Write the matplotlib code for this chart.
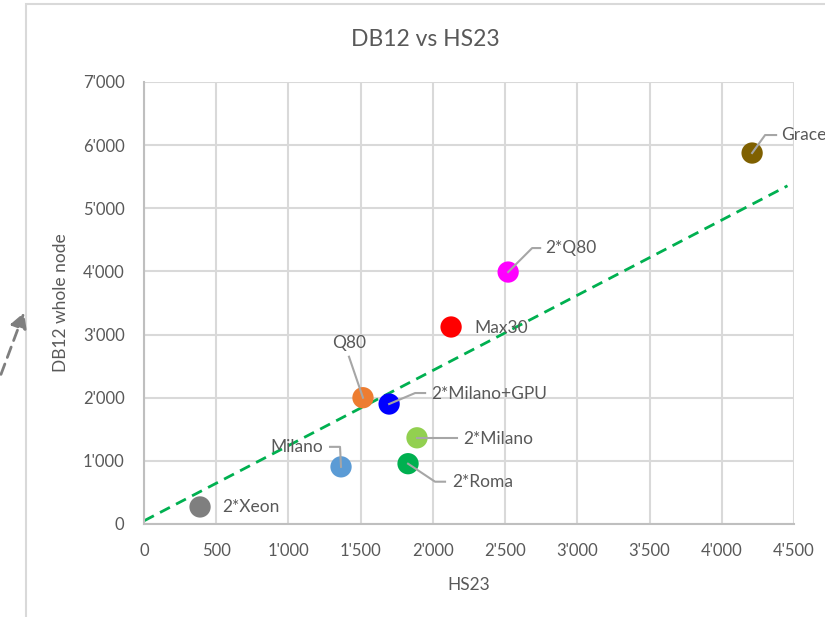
import matplotlib.pyplot as plt
from matplotlib.patches import Rectangle, FancyArrowPatch
from matplotlib.ticker import FuncFormatter, MultipleLocator

# ---------------- DATA ----------------
names = ["2*Xeon", "Milano", "Q80", "2*Milano+GPU", "2*Milano",
         "2*Roma", "Max30", "2*Q80", "Grace"]
hs23 = [388, 1364, 1516, 1697, 1890, 1828, 2126, 2521, 4210]
db12 = [270, 905, 2000, 1900, 1365, 955, 3120, 3990, 5875]
colors = ["#7f7f7f", "#5b9bd5", "#ed7d31", "#0000ff", "#92d050",
          "#00b050", "#ff0000", "#ff00ff", "#7f6000"]

# linear trend line
trend_slope = 1.191
trend_intercept = 50
trend_x_end = 4455

# label placement: text offset (px) and leader path (px) relative to the point
label_style = {
    "2*Xeon":       dict(text=(22, 0), ha="left", leader=None),
    "Milano":       dict(text=(-18, 20), ha="right", leader=[(0, 0), (-1, 20), (-11, 20)]),
    "Q80":          dict(text=(-14, 55), ha="center", leader=[(0, 0), (-14, 41)]),
    "2*Milano+GPU": dict(text=(42, 10), ha="left", leader=[(0, 0), (26, 11), (36, 11)]),
    "2*Milano":     dict(text=(46, -1), ha="left", leader=[(0, 0), (40, 0)]),
    "2*Roma":       dict(text=(44, -18), ha="left", leader=[(0, 0), (27, -18), (37, -18)]),
    "Max30":        dict(text=(23, -1), ha="left", leader=None),
    "2*Q80":        dict(text=(37, 24), ha="left", leader=[(0, 0), (24, 24), (32, 24)]),
    "Grace":        dict(text=(29, 18), ha="left", leader=[(0, 0), (13, 18), (24, 18)]),
}

TEXT = "#595959"
GRID = "#d9d9d9"
FONT = "Lato"

plt.rcParams["font.family"] = [FONT, "DejaVu Sans"]

W, H = 825, 617
fig = plt.figure(figsize=(W / 100, H / 100), dpi=100)

# chart frame
fig.patches.append(Rectangle((26 / W, -0.1), 1.2, (H - 4) / H + 0.1,
                             transform=fig.transFigure, fill=False,
                             edgecolor=GRID, linewidth=1.5))

# dashed arrow on the left edge
fig.patches.append(FancyArrowPatch((0 / W, 1 - 377 / H), (25 / W, 1 - 310 / H),
                                   transform=fig.transFigure,
                                   arrowstyle="-|>,head_length=9,head_width=5",
                                   mutation_scale=1, color="#7f7f7f",
                                   linewidth=2, linestyle=(0, (4, 2.5))))

ax = fig.add_axes([144 / W, 1 - 524 / H, 650 / W, 442 / H])
ax.set_xlim(0, 4500)
ax.set_ylim(0, 7000)
ax.xaxis.set_major_locator(MultipleLocator(500))
ax.yaxis.set_major_locator(MultipleLocator(1000))

fmt = FuncFormatter(lambda v, p: f"{int(v):,}".replace(",", "'"))
ax.xaxis.set_major_formatter(fmt)
ax.yaxis.set_major_formatter(fmt)

ax.grid(True, color=GRID, linewidth=1.5)
ax.set_axisbelow(True)
for side in ["top", "right"]:
    ax.spines[side].set_visible(False)
for side in ["left", "bottom"]:
    ax.spines[side].set_color("#bfbfbf")
    ax.spines[side].set_linewidth(1.5)
ax.tick_params(axis="x", length=0, labelsize=12, labelcolor=TEXT, pad=14)
ax.tick_params(axis="y", length=0, labelsize=12, labelcolor=TEXT, pad=14)

ax.set_xlabel("HS23", fontsize=12.5, color=TEXT, labelpad=13)
ax.set_ylabel("DB12 whole node", fontsize=12.5, color=TEXT, labelpad=10)
fig.text(425 / W, 1 - 40 / H, "DB12 vs HS23", ha="center", va="center",
         fontsize=16.5, color=TEXT)

# trend line
ax.plot([0, trend_x_end],
        [trend_intercept, trend_intercept + trend_slope * trend_x_end],
        color="#00b050", linestyle=(0, (4, 2.5)), linewidth=2, zorder=2,
        clip_on=False)

ax.scatter(hs23, db12, s=235, c=colors, zorder=3, clip_on=False,
           linewidths=0)

fig.canvas.draw()
for name, x, y in zip(names, hs23, db12):
    st = label_style[name]
    px, py = ax.transData.transform((x, y))
    if st["leader"]:
        xs = [px + dx for dx, dy in st["leader"]]
        ys = [py + dy for dx, dy in st["leader"]]
        fig.add_artist(plt.Line2D(xs, ys, transform=None, color="#a6a6a6",
                                  linewidth=1.5, zorder=4))
    tx, ty = st["text"]
    fig.text(px + tx, py + ty, name, transform=None, ha=st["ha"],
             va="center", fontsize=12.5, color=TEXT, zorder=5)

fig.savefig("out.png", dpi=100)
